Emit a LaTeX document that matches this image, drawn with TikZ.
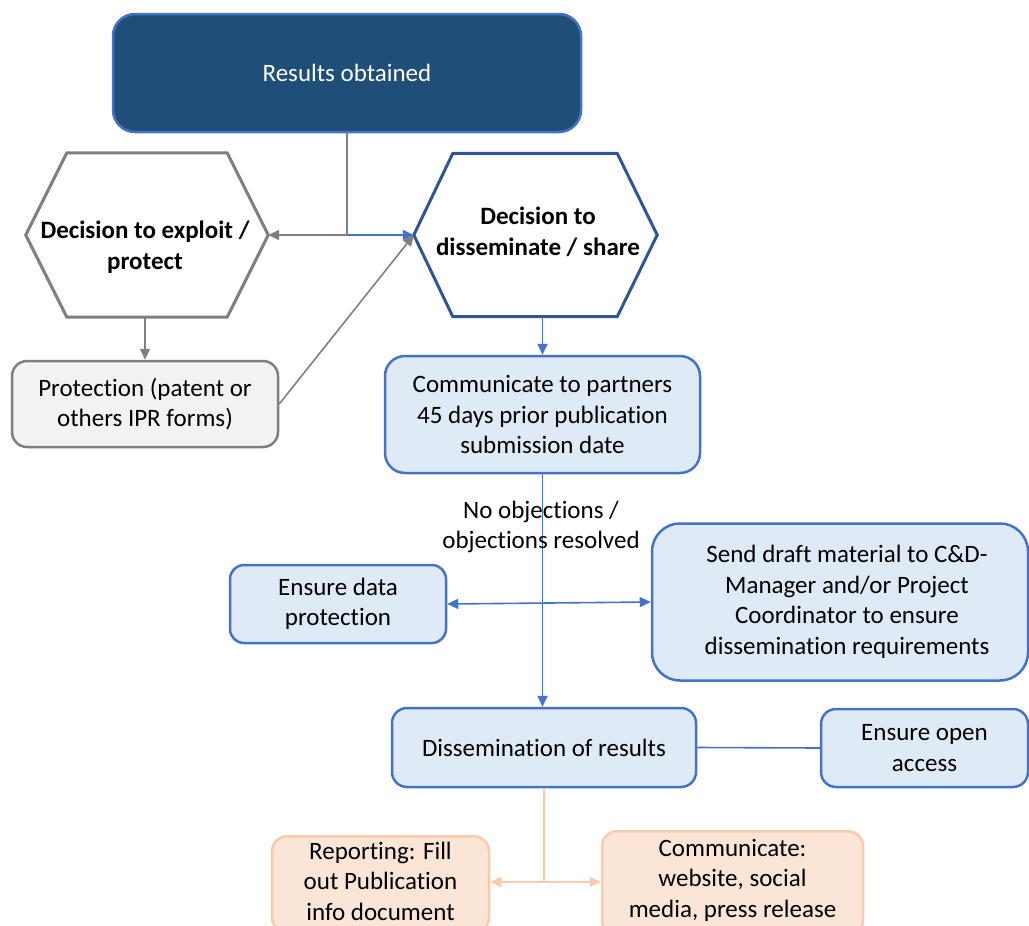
\documentclass[tikz,border=0pt]{standalone}
\usepackage{fontspec}
\setmainfont{Carlito}[Ligatures=NoCommon]
\usetikzlibrary{arrows.meta}
\definecolor{darkblue}{HTML}{1F4E79}
\definecolor{midblue}{HTML}{4472C4}
\definecolor{hexblue}{HTML}{2F5597}
\definecolor{lightblue}{HTML}{DEEBF7}
\definecolor{graybd}{HTML}{7F7F7F}
\definecolor{grayfill}{HTML}{F2F2F2}
\definecolor{orangebd}{HTML}{F8CBAD}
\definecolor{orangefill}{HTML}{FBE5D6}
\begin{document}
\begin{tikzpicture}[x=1pt,y=-1pt,
  txt/.style={font=\fontsize{25}{30.5}\selectfont, align=center, inner sep=0pt, text=black},
  bluebox/.style={txt, rectangle, draw=midblue, fill=lightblue, line width=2.5pt, rounded corners=#1},
  bluebox/.default=15pt,
  graybox/.style={txt, rectangle, draw=graybd, fill=grayfill, line width=2.5pt, rounded corners=15pt},
  orangebox/.style={txt, rectangle, draw=orangebd, fill=orangefill, line width=2.5pt, rounded corners=15pt},
  hexframe/.style={rectangle, inner sep=0pt, draw=none},
  hextext/.style={txt, font=\fontsize{25}{30.5}\selectfont\bfseries},
  tipa/.style={-{Triangle[length=11pt,width=10pt]}},
  tipb/.style={{Triangle[length=11pt,width=10pt]}-{Triangle[length=11pt,width=10pt]}},
  grayline/.style={draw=graybd, line width=1.6pt},
  blueline/.style={draw=midblue, line width=1.6pt},
  orangeline/.style={draw=orangebd, line width=2pt}
]
\useasboundingbox (0,0) rectangle (1029,926);
\clip (0,0) rectangle (1029,926);

% top box
\node[txt, rectangle, draw=midblue, fill=darkblue, line width=2.5pt, rounded corners=22pt,
      minimum width=468pt, minimum height=118pt, text=white] (res) at (347,73) {Results obtained};

% hexagons
\node[hexframe, minimum width=242pt, minimum height=164pt] (lhex) at (147,235) {};
\draw[graybd, line width=3pt, fill=white] (lhex.west) -- ([xshift=41pt]lhex.north west) -- ([xshift=-41pt]lhex.north east)
  -- (lhex.east) -- ([xshift=-41pt]lhex.south east) -- ([xshift=41pt]lhex.south west) -- cycle;
\node[hextext] (lhextxt) at (145,247) {Decision to exploit /\\protect};

\node[hexframe, minimum width=243pt, minimum height=163pt] (rhex) at (535.5,235) {};
\draw[hexblue, line width=3pt, fill=white] (rhex.west) -- ([xshift=39pt]rhex.north west) -- ([xshift=-40pt]rhex.north east)
  -- (rhex.east) -- ([xshift=-40pt]rhex.south east) -- ([xshift=39pt]rhex.south west) -- cycle;
\node[hextext] (rhextxt) at (538,232) {Decision to\\disseminate / share};

% boxes
\node[graybox, minimum width=266pt, minimum height=86pt] (prot) at (145,404) {Protection (patent or\\others IPR forms)};
\node[bluebox=20pt, minimum width=315pt, minimum height=117pt] (comm) at (542.5,414.5) {Communicate to partners\\45 days prior publication\\submission date};
\node[bluebox=14pt, minimum width=216pt, minimum height=78pt] (edp) at (338,604) {Ensure data\\protection};
\node[bluebox=28pt, minimum width=376pt, minimum height=157pt] (send) at (840,602) {};
\node[txt] (sendtxt) at (847,602) {Send draft material to C\&D-\\Manager and/or Project\\Coordinator to ensure\\dissemination requirements};
\node[bluebox=15pt, minimum width=304pt, minimum height=79pt] (diss) at (544,747.5) {Dissemination of results};
\node[bluebox=15pt, minimum width=207pt, minimum height=78pt] (oa) at (924.5,748) {Ensure open\\access};
\node[orangebox, minimum width=217pt, minimum height=96pt, anchor=north] (rep) at (380.5,835) {};
\node[txt] (reptxt) at (380.5,881) {Reporting: Fill\\out Publication\\info document};
\node[orangebox, minimum width=261pt, minimum height=104pt, anchor=north] (comm2) at (732.5,830) {};
\node[txt] (comm2txt) at (732.5,880) {Communicate:\\website, social\\media, press release};

% connectors
\coordinate (j1) at (347,235);
\draw[grayline] (res.south) -- (j1);
\draw[grayline, tipa] (j1) -- (lhex.east);
\draw[blueline, tipa] (j1) -- (rhex.west);
\draw[grayline, tipa] (prot.north |- lhex.south) -- (prot.north);
\draw[grayline, tipa] (prot.east) -- (rhex.west);
\draw[blueline, tipa] (comm.north |- rhex.south) -- (comm.north);
\draw[blueline, tipa] (comm.south) -- (comm.south |- diss.north);
\node[txt] (cond) at (541,527) {No objections /\\objections resolved};
\draw[blueline, tipb] (edp.east) -- (send.west);
\draw[blueline] (diss.east) -- (oa.west);
\coordinate (j2) at (544,882);
\draw[orangeline] (diss.south) -- (j2);
\draw[orangeline, tipa] (j2) -- (j2 -| rep.east);
\draw[orangeline, tipa] (j2) -- (j2 -| comm2.west);
\end{tikzpicture}
\end{document}
